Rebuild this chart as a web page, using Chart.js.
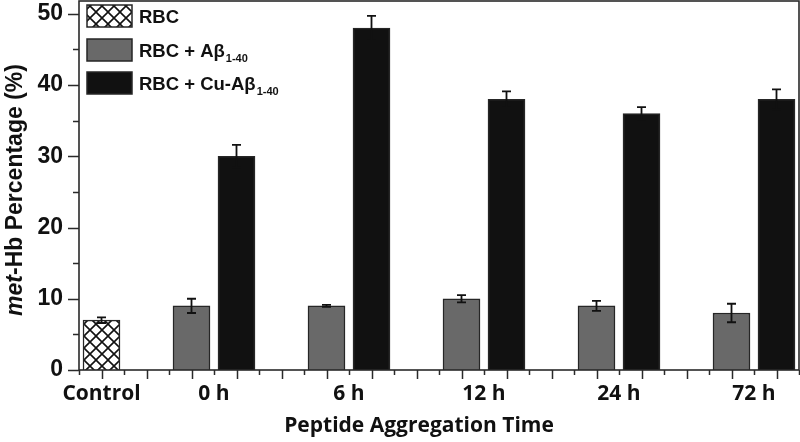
<!DOCTYPE html>
<html>
<head>
<meta charset="utf-8">
<script src="https://cdn.jsdelivr.net/npm/chart.js@4/dist/chart.umd.min.js"></script>
<style>
  html, body { margin: 0; padding: 0; background: #ffffff; }
  #wrap { width: 800px; height: 442px; position: relative; }
</style>
</head>
<body>
<div id="wrap"><canvas id="c" width="800" height="442"></canvas></div>
<script>
// ---- data ----
const controlLabel = 'Control';
const timeLabels = ['0 h', '6 h', '12 h', '24 h', '72 h'];
const rbcValue = [7];
const rbcError = [0.4];
const abValues = [9, 9, 10, 9, 8];
const abErrors = [1.0, 0.15, 0.5, 0.7, 1.3];
const cuAbValues = [30, 48, 38, 36, 38];
const cuAbErrors = [1.6, 1.7, 1.1, 0.9, 1.4];
const yTicks = [0, 10, 20, 30, 40, 50];
const seriesNames = ['RBC', 'RBC + A\u03B2', 'RBC + Cu-A\u03B2'];
const seriesSub = ['', '1-40', '1-40'];

// ---- slot layout on the numeric x axis (control at 0, groups every 6 slots) ----
const slotControl = 0;
const slotGray = i => 4 + 6 * i;
const slotBlack = i => 6 + 6 * i;
const slotLabel = i => 5 + 6 * i;
const labelAt = {};
labelAt[slotControl] = controlLabel;
timeLabels.forEach((t, i) => { labelAt[slotLabel(i)] = t; });

// crosshatch pattern
function makeHatch() {
  const c = document.createElement('canvas');
  c.width = 12; c.height = 12;
  const g = c.getContext('2d');
  g.fillStyle = '#ffffff';
  g.fillRect(0, 0, 12, 12);
  g.strokeStyle = '#111111';
  g.lineWidth = 1.6;
  g.beginPath();
  g.moveTo(-2, -2); g.lineTo(14, 14);
  g.moveTo(14, -2); g.lineTo(-2, 14);
  g.stroke();
  return document.getElementById('c').getContext('2d').createPattern(c, 'repeat');
}
const hatch = makeHatch();

const GRAY = '#696969';
const BLACK = '#111111';
const EDGE = '#262626';
const errs = [rbcError, abErrors, cuAbErrors];
const fills = [hatch, GRAY, BLACK];

const extras = {
  id: 'extras',
  afterDatasetsDraw(chart) {
    const ctx = chart.ctx;
    const xs = chart.scales.x, ys = chart.scales.y;
    const a = chart.chartArea;
    ctx.save();
    // error bars
    ctx.strokeStyle = '#111111';
    ctx.lineWidth = 1.8;
    chart.data.datasets.forEach((ds, di) => {
      const meta = chart.getDatasetMeta(di);
      meta.data.forEach((el, j) => {
        const v = ds.data[j].y, e = errs[di][j];
        const x = el.x;
        const yt = ys.getPixelForValue(v + e), yb = ys.getPixelForValue(v - e);
        ctx.beginPath();
        ctx.moveTo(x, yt); ctx.lineTo(x, yb);
        ctx.moveTo(x - 4.5, yt); ctx.lineTo(x + 4.5, yt);
        ctx.moveTo(x - 4.5, yb); ctx.lineTo(x + 4.5, yb);
        ctx.stroke();
      });
    });
    // frame
    ctx.strokeStyle = '#2a2a2a';
    ctx.lineWidth = 1.6;
    ctx.strokeRect(a.left, a.top, a.right - a.left, a.bottom - a.top);
    // y ticks (major every 10, minor every 5)
    ctx.lineWidth = 1.5;
    ctx.beginPath();
    for (let v = 0; v <= 50; v += 5) {
      const y = Math.round(ys.getPixelForValue(v)) + 0.5;
      const len = (v % 10 === 0) ? 11 : 6;
      ctx.moveTo(a.left - len, y); ctx.lineTo(a.left, y);
    }
    // x ticks at every slot
    for (let s = xs.min; s <= xs.max; s++) {
      const x = Math.round(xs.getPixelForValue(s)) + 0.5;
      const len = ((s % 2) === 0) ? 9 : 5;
      ctx.moveTo(x, a.bottom); ctx.lineTo(x, a.bottom + len);
    }
    ctx.stroke();
    // legend
    const lx = 87, lw = 45, lh = 22, rowY = [5, 39, 72];
    seriesNames.forEach((name, i) => {
      ctx.fillStyle = fills[i];
      ctx.fillRect(lx, rowY[i], lw, lh);
      ctx.strokeStyle = EDGE;
      ctx.lineWidth = 1.5;
      ctx.strokeRect(lx, rowY[i], lw, lh);
      ctx.fillStyle = '#111111';
      ctx.font = 'bold 18.5px "Liberation Sans", Arial, sans-serif';
      ctx.textAlign = 'left';
      ctx.textBaseline = 'alphabetic';
      const by = rowY[i] + 18;
      ctx.fillText(name, 139, by);
      if (seriesSub[i]) {
        const w = ctx.measureText(name).width;
        ctx.font = 'bold 11px "Liberation Sans", Arial, sans-serif';
        ctx.fillText(seriesSub[i], 139 + w + 1, by + 5);
      }
    });
    // y title with italic "met"
    ctx.translate(22, 190);
    ctx.rotate(-Math.PI / 2);
    const f1 = 'italic bold 23px "Liberation Sans", Arial, sans-serif';
    const f2 = 'bold 23px "Liberation Sans", Arial, sans-serif';
    ctx.font = f1; const w1 = ctx.measureText('met').width;
    ctx.font = f2; const w2 = ctx.measureText('-Hb Percentage (%)').width;
    const x0 = -(w1 + w2) / 2;
    ctx.fillStyle = '#111111';
    ctx.textAlign = 'left';
    ctx.textBaseline = 'alphabetic';
    ctx.font = f1; ctx.fillText('met', x0, 0);
    ctx.font = f2; ctx.fillText('-Hb Percentage (%)', x0 + w1, 0);
    ctx.restore();
    // x title
    ctx.save();
    ctx.fillStyle = '#111111';
    ctx.font = 'bold 21px "Open Sans", sans-serif';
    ctx.textAlign = 'center';
    ctx.textBaseline = 'alphabetic';
    ctx.fillText('Peptide Aggregation Time', 419, 432);
    ctx.restore();
  }
};

new Chart(document.getElementById('c'), {
  type: 'bar',
  data: {
    datasets: [
      { label: seriesNames[0], data: rbcValue.map(v => ({ x: slotControl, y: v })),
        backgroundColor: hatch, borderColor: EDGE, borderWidth: 1.5 },
      { label: seriesNames[1] + seriesSub[1], data: abValues.map((v, i) => ({ x: slotGray(i), y: v })),
        backgroundColor: GRAY, borderColor: EDGE, borderWidth: 1.5 },
      { label: seriesNames[2] + seriesSub[2], data: cuAbValues.map((v, i) => ({ x: slotBlack(i), y: v })),
        backgroundColor: BLACK, borderColor: EDGE, borderWidth: 1.5 }
    ]
  },
  options: {
    responsive: false,
    animation: false,
    grouped: false,
    barThickness: 37,
    layout: { padding: { top: 1, right: 1, left: 0, bottom: 0 } },
    plugins: { legend: { display: false }, tooltip: { enabled: false } },
    scales: {
      x: {
        type: 'linear', min: -1, max: 31, offset: false,
        grid: { display: false, offset: false, drawTicks: false },
        border: { display: false },
        afterBuildTicks: s => { s.ticks = Object.keys(labelAt).map(k => ({ value: Number(k) })); },
        afterFit: s => { s.height = 72; s.paddingLeft = 0; s.paddingRight = 0; },
        ticks: {
          autoSkip: false, maxRotation: 0, padding: 11, color: '#111111',
          font: { family: '"Open Sans", sans-serif', weight: 'bold', size: 21 },
          callback: v => labelAt[v] || ''
        }
      },
      y: {
        min: 0, max: 51.8,
        grid: { display: false, drawTicks: false },
        border: { display: false },
        afterBuildTicks: s => { s.ticks = yTicks.map(v => ({ value: v })); },
        afterFit: s => { s.width = 79; s.paddingTop = 0; s.paddingBottom = 0; },
        ticks: {
          padding: 16, color: '#111111',
          font: { family: '"Liberation Sans", Arial, sans-serif', weight: 'bold', size: 23 }
        }
      }
    }
  },
  plugins: [extras]
});
</script>
</body>
</html>
